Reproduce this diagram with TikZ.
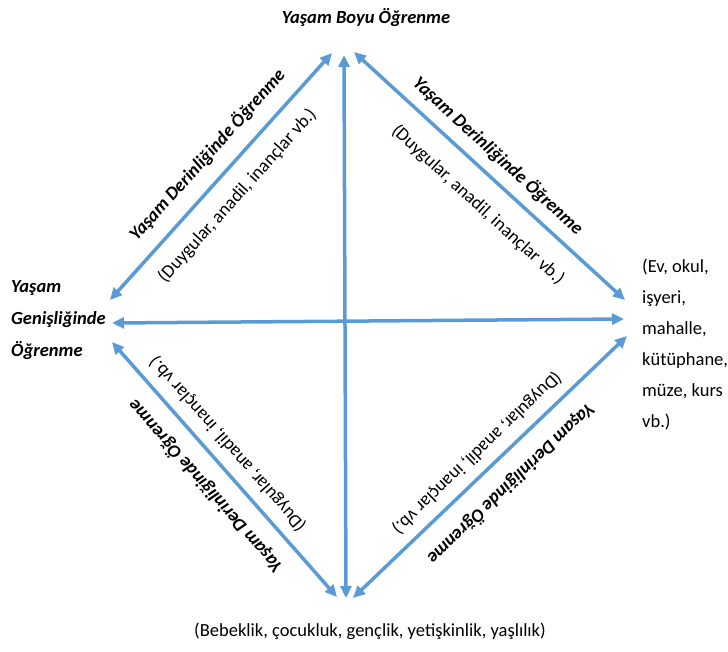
\documentclass[tikz,border=0pt]{standalone}
\usepackage{fontspec}
\setmainfont{Carlito}
\usetikzlibrary{arrows.meta}
\definecolor{arrowblue}{HTML}{5B9BD5}

\begin{document}
\begin{tikzpicture}[x=1pt, y=-1pt,
  link/.style={draw=arrowblue, line width=3.5pt,
    {Triangle[length=12pt,width=11pt]}-{Triangle[length=12pt,width=11pt]}},
  headtext/.style={font=\bfseries\itshape\fontsize{18.5}{22}\selectfont, inner sep=0pt},
  notetext/.style={font=\fontsize{18.5}{22}\selectfont, inner sep=0pt},
  along/.style={sloped, allow upside down, inner sep=0pt}
]
\path[use as bounding box] (0,0) rectangle (728,651);

% corner labels
\node[headtext] (top) at (366,18) {Yaşam Boyu Öğrenme};
\node[headtext, font=\bfseries\itshape\fontsize{18.5}{32}\selectfont,
      align=left, anchor=west] (left) at (11,320) {Yaşam\\Genişliğinde\\Öğrenme};
\node[notetext, font=\fontsize{18.5}{31}\selectfont,
      align=left, anchor=north west] (right) at (642,259)
      {(Ev, okul,\\işyeri,\\mahalle,\\kütüphane,\\müze, kurs\\vb.)};
\node[notetext] (bottom) at (370,631)
      {(Bebeklik, çocukluk, gençlik, yetişkinlik, yaşlılık)};

% arrow end points around the diamond
\coordinate (T1) at (332,53);
\coordinate (T2) at (354,52);
\coordinate (TV) at (344,55);
\coordinate (L1) at (110,300);
\coordinate (LH) at (112,323);
\coordinate (L2) at (112,342);
\coordinate (R1) at (625,300);
\coordinate (RH) at (624,319);
\coordinate (R2) at (627,336);
\coordinate (B1) at (337,597);
\coordinate (BV) at (346,598);
\coordinate (B2) at (353,598);

% central cross
\draw[link] (TV) -- (BV);
\draw[link] (LH) -- (RH);

% diamond edges with their labels
\draw[link] (L1) --
  node[along, headtext, pos=0.52, above=14pt] {Yaşam Derinliğinde Öğrenme}
  node[along, notetext, pos=0.49, below=15pt] {(Duygular, anadil, inançlar vb.)}
  (T1);
\draw[link] (T2) --
  node[along, headtext, pos=0.48, above=10pt] {Yaşam Derinliğinde Öğrenme}
  node[along, notetext, pos=0.53, below=19pt] {(Duygular, anadil, inançlar vb.)}
  (R1);
\draw[link] (B1) --
  node[along, headtext, pos=0.5, above=15pt] {Yaşam Derinliğinde Öğrenme}
  node[along, notetext, pos=0.55, below=9pt] {(Duygular, anadil, inançlar vb.)}
  (L2);
\draw[link] (R2) --
  node[along, headtext, pos=0.49, above=16pt] {Yaşam Derinliğinde Öğrenme}
  node[along, notetext, pos=0.5, below=9pt] {(Duygular, anadil, inançlar vb.)}
  (B2);
\end{tikzpicture}
\end{document}
